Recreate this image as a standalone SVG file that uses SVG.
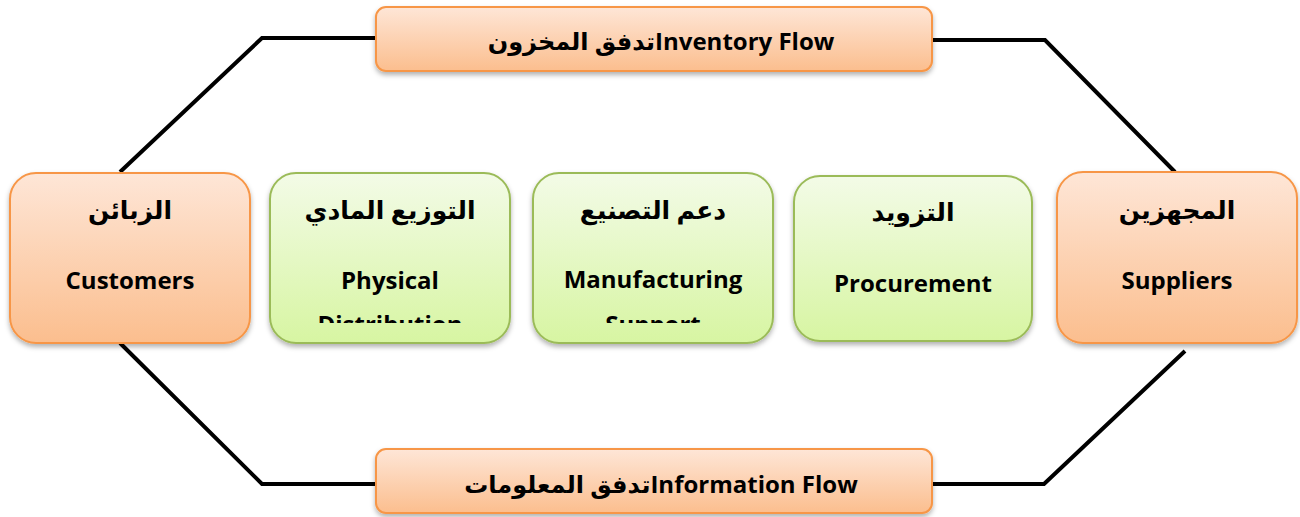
<svg xmlns="http://www.w3.org/2000/svg" width="1300" height="517" viewBox="0 0 1300 517">
<style>
.t{font-family:"Open Sans","DejaVu Sans",sans-serif;font-weight:bold;fill:#000;text-anchor:middle}
.en{font-size:24px}
.ar{font-size:25px}
.lab{font-size:24px}
.con{fill:none;stroke:#000;stroke-width:4;stroke-linejoin:miter}
.or{fill:url(#go);stroke:#F79646;stroke-width:2;filter:url(#sh)}
.gr{fill:url(#gg);stroke:#9BBB59;stroke-width:2;filter:url(#sh)}
</style>
<defs>
<linearGradient id="go" x1="0" y1="0" x2="0" y2="1">
<stop offset="0" stop-color="#FEE6D7"/>
<stop offset="1" stop-color="#FBBE8E"/>
</linearGradient>
<linearGradient id="gg" x1="0" y1="0" x2="0" y2="1">
<stop offset="0" stop-color="#F3FBE7"/>
<stop offset="1" stop-color="#D7F5A2"/>
</linearGradient>
<filter id="sh" x="-10%" y="-10%" width="120%" height="130%">
<feDropShadow dx="0" dy="3" stdDeviation="2.5" flood-color="#000" flood-opacity="0.3"/>
</filter>
<clipPath id="c2"><rect x="270" y="173" width="240" height="150"/></clipPath>
<clipPath id="c3"><rect x="533" y="173" width="240" height="150"/></clipPath>
</defs>
<g id="connectors">
<polyline class="con" points="120,172 262,38 376,38"/>
<polyline class="con" points="932,40 1045,40 1175,172"/>
<polyline class="con" points="120,343 262,484 376,484"/>
<polyline class="con" points="932,484 1044,484 1185,351"/>
</g>
<g id="inventory-flow">
<rect class="or" x="376" y="7" width="556" height="64" rx="10"/>
<text class="t lab" x="661" y="50">تدفق المخزونInventory Flow</text>
</g>
<g id="information-flow">
<rect class="or" x="376" y="449" width="556" height="64" rx="10"/>
<text class="t lab" x="661" y="493">تدفق المعلوماتInformation Flow</text>
</g>
<g id="customers">
<rect class="or" x="10" y="173" width="240" height="170" rx="26"/>
<text class="t ar" x="130" y="219">الزبائن</text>
<text class="t en" x="130" y="289">Customers</text>
</g>
<g id="physical-distribution">
<rect class="gr" x="270" y="173" width="240" height="170" rx="26"/>
<text class="t ar" x="390" y="219">التوزيع المادي</text>
<g clip-path="url(#c2)">
<text class="t en" x="390" y="289">Physical</text>
<text class="t en" x="390" y="333">Distribution</text>
</g>
</g>
<g id="manufacturing-support">
<rect class="gr" x="533" y="173" width="240" height="170" rx="26"/>
<text class="t ar" x="653" y="219">دعم التصنيع</text>
<g clip-path="url(#c3)">
<text class="t en" x="653" y="288">Manufacturing</text>
<text class="t en" x="653" y="333">Support</text>
</g>
</g>
<g id="procurement">
<rect class="gr" x="794" y="176" width="238" height="165" rx="26"/>
<text class="t ar" x="913" y="221">التزويد</text>
<text class="t en" x="913" y="292">Procurement</text>
</g>
<g id="suppliers">
<rect class="or" x="1057" y="172" width="240" height="171" rx="26"/>
<text class="t ar" x="1177" y="219">المجهزين</text>
<text class="t en" x="1177" y="289">Suppliers</text>
</g>
</svg>
